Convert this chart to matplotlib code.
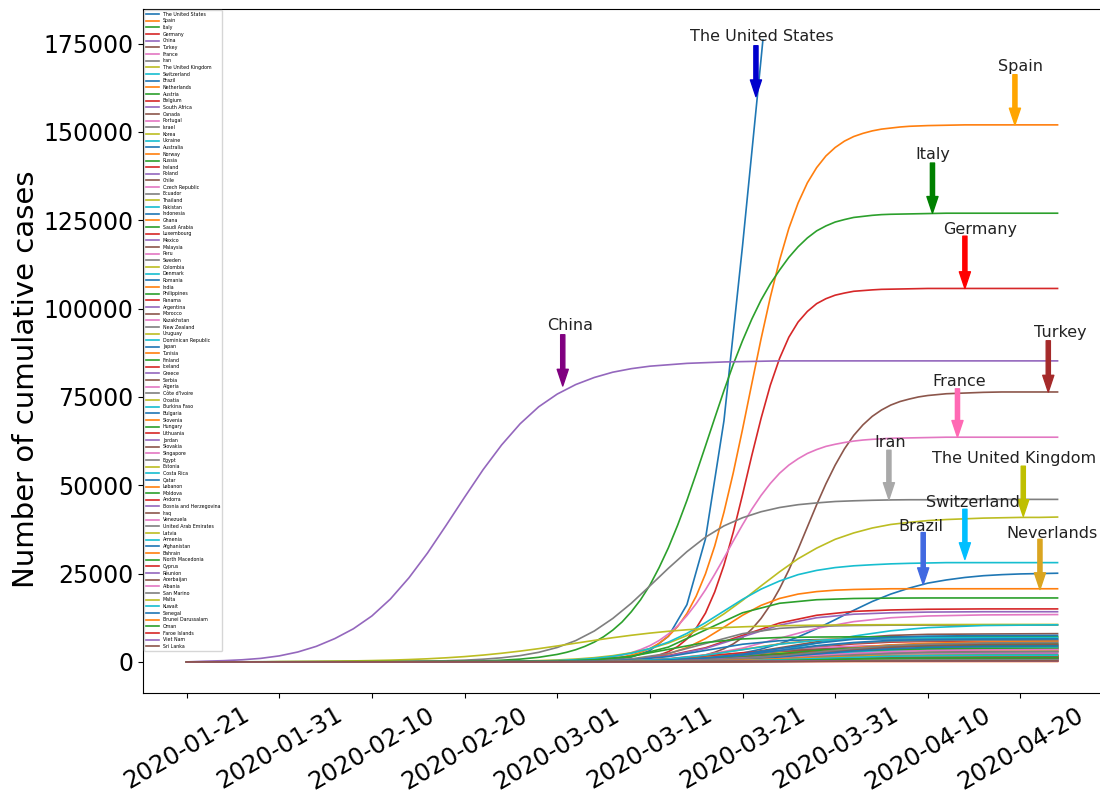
import numpy as np
import matplotlib
matplotlib.use('Agg')
import matplotlib.pyplot as plt
import matplotlib.dates as mdates

# dates are counted in days from 2020-01-21
start_date = '2020-01-21'
tick_labels = ['2020-01-21', '2020-01-31', '2020-02-10', '2020-02-20', '2020-03-01',
               '2020-03-11', '2020-03-21', '2020-03-31', '2020-04-10', '2020-04-20']

big_days = list(range(0, 96, 2))
fine_days = list(range(0, 40, 2)) + list(range(40, 85)) + list(range(86, 96, 2))
small_days = [0, 40, 44, 48, 52, 56, 60, 64, 68, 72, 76, 80, 86, 94]
us_days = list(range(0, 64, 2)) + [62.2]

# cumulative cases (thousands)
us = [0, 0, 0, 0, 0, 0, 0, 0,
      0, 0, 0, 0, 0, 0, 0, 0,
      0, 0, 0, 0, 0.05, 0.11, 0.26, 0.6,
      1.38, 3.2, 7.25, 16.2, 34.8, 68.3, 117.7, 170.6,
      176]

# on fine_days
spain = [0, 0, 0, 0, 0, 0, 0, 0, 0, 0, 0, 0, 0, 0, 0, 0, 0, 0, 0, 0.07,
         0.13, 0.18, 0.26, 0.36, 0.5, 0.7, 0.99, 1.38, 1.94, 2.7,
         3.78, 5.26, 7.27, 10.0, 13.7, 18.6, 24.9, 32.8, 42.4, 53.5,
         65.8, 78.7, 91.4, 103.2, 113.7, 122.7, 129.9, 135.6, 139.9, 143.2,
         145.6, 147.4, 148.7, 149.6, 150.3, 150.8, 151.1, 151.4, 151.6, 151.7,
         151.8, 151.85, 151.9, 151.95, 152,
         152, 152, 152, 152, 152]
italy = [0, 0, 0, 0, 0, 0, 0, 0, 0, 0, 0, 0, 0, 0.07, 0.11, 0.18, 0.29, 0.48, 0.79, 1.3,
         2.12, 2.71, 3.45, 4.41, 5.6, 7.11, 9.0, 11.3, 14.2, 17.6,
         21.7, 26.7, 32.3, 38.7, 45.7, 53.3, 61.1, 69.0, 76.8, 84.2,
         90.9, 97.0, 102.4, 107.0, 110.9, 114.5, 117.5, 120.0, 122.0, 123.4,
         124.5, 125.2, 125.8, 126.1, 126.4, 126.6, 126.7, 126.75, 126.8, 126.85,
         126.9, 126.95, 127, 127, 127,
         127, 127, 127, 127, 127]
germany = [0, 0, 0, 0, 0, 0, 0, 0, 0, 0, 0, 0, 0, 0, 0, 0, 0, 0, 0, 0,
           0.02, 0.03, 0.04, 0.07, 0.1, 0.16, 0.24, 0.36, 0.55, 0.84,
           1.27, 1.92, 2.89, 4.35, 6.47, 9.55, 13.8, 19.8, 27.4, 36.7,
           47.3, 58.4, 68.9, 78.3, 85.9, 91.9, 96.2, 99.2, 101.4, 102.8,
           103.8, 104.4, 104.9, 105.1, 105.3, 105.45, 105.5, 105.55, 105.6, 105.65,
           105.7, 105.7, 105.7, 105.7, 105.7,
           105.7, 105.7, 105.7, 105.7, 105.7]
turkey = [0, 0, 0, 0, 0, 0, 0, 0, 0, 0, 0, 0, 0, 0, 0, 0, 0, 0, 0, 0,
          0.01, 0.01, 0.02, 0.03, 0.04, 0.05, 0.07, 0.1, 0.14, 0.2,
          0.28, 0.39, 0.54, 0.75, 1.03, 1.43, 1.97, 2.72, 3.73, 5.09,
          6.9, 9.27, 12.3, 16.1, 20.7, 26.0, 31.9, 38.2, 44.5, 50.4,
          55.7, 60.3, 64.1, 67.1, 69.5, 71.3, 72.7, 73.7, 74.4, 75.0,
          75.4, 75.65, 75.9, 76.0, 76.1,
          76.3, 76.4, 76.4, 76.4, 76.4]
france = [0, 0, 0, 0, 0, 0, 0, 0, 0, 0, 0, 0, 0, 0, 0, 0, 0, 0, 0.08, 0.14,
          0.25, 0.33, 0.45, 0.6, 0.81, 1.09, 1.46, 1.96, 2.61, 3.48,
          4.6, 6.06, 7.9, 10.2, 13.1, 16.5, 20.4, 24.8, 29.4, 34.2,
          38.8, 43.2, 47.1, 50.5, 53.4, 55.7, 57.5, 59.0, 60.1, 61.0,
          61.6, 62.1, 62.5, 62.8, 63.0, 63.15, 63.3, 63.35, 63.4, 63.45,
          63.5, 63.55, 63.6, 63.6, 63.6,
          63.6, 63.6, 63.6, 63.6, 63.6]

# on big_days
china = [0, 0.2, 0.35, 0.6, 1.0, 1.7, 2.8, 4.4,
         6.6, 9.37, 13.0, 17.8, 23.8, 30.8, 38.6, 46.6,
         54.4, 61.4, 67.4, 72.2, 75.8, 78.5, 80.5, 82.0,
         83.0, 83.7, 84.1, 84.5, 84.7, 84.9, 85.0, 85.1,
         85.2, 85.2, 85.2, 85.2, 85.2, 85.2, 85.2, 85.2,
         85.2, 85.2, 85.2, 85.2, 85.2, 85.2, 85.2, 85.2]
iran = [0, 0, 0, 0, 0, 0, 0, 0,
        0, 0, 0.05, 0.09, 0.13, 0.21, 0.32, 0.49,
        0.76, 1.16, 1.78, 2.71, 4.08, 6.03, 8.74, 12.3,
        16.6, 21.5, 26.5, 31.2, 35.3, 38.5, 40.8, 42.5,
        43.7, 44.5, 45.0, 45.4, 45.6, 45.75, 45.85, 45.9,
        45.9, 46, 46, 46, 46, 46, 46, 46]
uk = [0, 0, 0, 0, 0, 0, 0, 0,
      0, 0, 0, 0, 0, 0, 0, 0.08,
      0.11, 0.17, 0.25, 0.37, 0.55, 0.81, 1.2, 1.77,
      2.58, 3.73, 5.33, 7.46, 10.25, 13.6, 17.4, 21.5,
      25.5, 29.2, 32.2, 34.7, 36.5, 37.9, 38.9, 39.5,
      40.0, 40.3, 40.5, 40.7, 40.8, 40.9, 40.9, 41.0]
switzerland = [0, 0, 0, 0, 0, 0, 0, 0,
               0, 0, 0, 0, 0, 0, 0, 0,
               0, 0.1, 0.15, 0.25, 0.39, 0.62, 0.99, 1.57,
               2.45, 3.77, 5.6, 8.07, 11.1, 14.4, 17.7, 20.6,
               22.9, 24.7, 25.9, 26.7, 27.2, 27.5, 27.75, 27.9,
               28.0, 28.1, 28.1, 28.1, 28.1, 28.1, 28.1, 28.1]
brazil = [0, 0, 0, 0, 0, 0, 0, 0,
          0, 0, 0, 0, 0, 0, 0, 0,
          0, 0, 0, 0, 0, 0, 0.09, 0.14,
          0.22, 0.34, 0.51, 0.76, 1.14, 1.7, 2.5, 3.62,
          5.13, 7.06, 9.37, 11.95, 14.6, 17.1, 19.2, 20.9,
          22.3, 23.2, 23.9, 24.4, 24.7, 24.9, 25.0, 25.1]
netherlands = [0, 0, 0, 0, 0, 0, 0, 0,
               0, 0, 0, 0, 0, 0, 0, 0,
               0, 0, 0, 0, 0, 0.09, 0.18, 0.35,
               0.67, 1.26, 2.3, 4.03, 6.6, 9.83, 13.2, 16.0,
               17.96, 19.2, 19.9, 20.3, 20.5, 20.6, 20.7, 20.7,
               20.7, 20.7, 20.7, 20.7, 20.7, 20.7, 20.7, 20.7]
korea = [0, 0, 0, 0, 0, 0.09, 0.12, 0.16,
         0.22, 0.28, 0.38, 0.5, 0.67, 0.88, 1.16, 1.5,
         1.93, 2.45, 3.06, 3.75, 4.51, 5.3, 6.09, 6.85,
         7.54, 8.15, 8.67, 9.1, 9.44, 9.72, 9.93, 10.1,
         10.22, 10.32, 10.39, 10.44, 10.48, 10.51, 10.53, 10.55,
         10.56, 10.57, 10.58, 10.59, 10.6, 10.6, 10.6, 10.6]

# smaller countries on the coarse day grid (thousands)
minor = {
    'Austria': [0, .14, .49, 1.5, 4.2, 9.05, 13.9, 16.6, 17.6, 17.95, 18.06, 18.1, 18.1, 18.1],
    'Belgium': [0, .1, .27, .7, 1.8, 4.0, 7.5, 11.0, 13.2, 14.3, 14.7, 14.9, 15.0, 15.0],
    'South Africa': [0, .1, .26, .67, 1.7, 3.8, 7.1, 10.4, 12.5, 13.5, 13.9, 14.1, 14.2, 14.2],
    'Canada': [0, .04, .1, .23, .54, 1.2, 2.3, 4.0, 5.7, 6.8, 7.5, 7.8, 7.9, 8.0],
    'Portugal': [0, .07, .16, .39, .9, 2.0, 3.9, 6.7, 9.5, 11.4, 12.5, 13.0, 13.3, 13.4],
    'Israel': [0, .08, .28, .86, 2.4, 5.2, 8.0, 9.5, 10.1, 10.3, 10.4, 10.4, 10.4, 10.4],
    'Ukraine': [0, .04, .08, .19, .41, .88, 1.8, 3.3, 5.3, 7.3, 8.8, 9.7, 10.3, 10.5],
    'Australia': [0, .05, .18, .54, 1.5, 3.25, 5.0, 6.0, 6.3, 6.45, 6.5, 6.5, 6.5, 6.5],
    'Norway': [0, .05, .13, .33, .83, 1.9, 3.5, 5.1, 6.2, 6.7, 6.9, 6.95, 7.0, 7.0],
    'Russia': [0, .19, .59, 1.6, 3.55, 5.5, 6.5, 6.9, 7.04, 7.09, 7.1, 7.1, 7.1, 7.1],
    'Ireland': [0, .03, .07, .17, .4, .88, 1.8, 3.0, 4.2, 5.1, 5.6, 5.8, 5.95, 6.0],
    'Poland': [0, .02, .04, .1, .22, .46, .94, 1.7, 2.8, 3.9, 4.7, 5.1, 5.4, 5.6],
    'Chile': [0, .03, .06, .15, .34, .74, 1.5, 2.5, 3.5, 4.3, 4.7, 4.9, 5.0, 5.0],
    'Czech Republic': [0, .03, .08, .22, .55, 1.2, 2.3, 3.4, 4.05, 4.4, 4.5, 4.6, 4.6, 4.6],
    'Ecuador': [0, .02, .05, .12, .28, .62, 1.2, 2.1, 3.0, 3.6, 3.9, 4.1, 4.2, 4.2],
    'Thailand': [0, .02, .08, .25, .7, 1.5, 2.3, 2.75, 2.9, 3.0, 3.0, 3.0, 3.0, 3.0],
    'Pakistan': [0, .02, .04, .09, .19, .4, .81, 1.5, 2.4, 3.3, 4.0, 4.4, 4.7, 4.8],
    'Indonesia': [0, .02, .04, .08, .17, .37, .74, 1.4, 2.2, 3.0, 3.7, 4.0, 4.3, 4.4],
    'Ghana': [0, .01, .01, .03, .06, .12, .25, .47, .75, 1.0, 1.25, 1.4, 1.46, 1.5],
    'Saudi Arabia': [0, .02, .04, .09, .2, .43, .87, 1.6, 2.6, 3.6, 4.3, 4.8, 5.1, 5.2],
    'Luxembourg': [0, .03, .09, .28, .79, 1.7, 2.6, 3.1, 3.3, 3.37, 3.4, 3.4, 3.4, 3.4],
    'Mexico': [0, .02, .03, .07, .15, .32, .64, 1.2, 1.9, 2.6, 3.2, 3.5, 3.7, 3.8],
    'Malaysia': [0, .03, .07, .19, .49, 1.1, 2.05, 3.0, 3.6, 3.9, 4.0, 4.1, 4.1, 4.1],
    'Peru': [0, .02, .04, .08, .18, .37, .76, 1.4, 2.25, 3.1, 3.7, 4.1, 4.4, 4.5],
    'Sweden': [0, .03, .07, .18, .42, .91, 1.8, 3.1, 4.4, 5.3, 5.8, 6.0, 6.15, 6.2],
    'Colombia': [0, .02, .04, .09, .21, .47, .94, 1.6, 2.3, 2.7, 3.0, 3.1, 3.2, 3.2],
    'Denmark': [0, .05, .12, .32, .82, 1.9, 3.45, 5.0, 6.1, 6.6, 6.8, 6.85, 6.9, 6.9],
    'Romania': [0, .03, .08, .19, .44, .96, 1.9, 3.25, 4.6, 5.5, 6.1, 6.3, 6.45, 6.5],
    'India': [0, .02, .05, .1, .23, .48, .97, 1.8, 2.9, 4.0, 4.8, 5.3, 5.6, 5.8],
    'Philippines': [0, .02, .06, .13, .31, .68, 1.35, 2.3, 3.25, 3.9, 4.3, 4.5, 4.6, 4.6],
    'Panama': [0, .02, .05, .11, .26, .57, 1.1, 1.95, 2.8, 3.3, 3.6, 3.8, 3.9, 3.9],
    'Argentina': [0, .01, .03, .08, .19, .41, .82, 1.4, 2.0, 2.4, 2.6, 2.7, 2.8, 2.8],
    'Morocco': [0, .01, .02, .05, .11, .24, .49, .9, 1.45, 2.0, 2.4, 2.65, 2.8, 2.9],
    'Kazakhstan': [0, .01, .01, .03, .06, .13, .27, .5, .8, 1.1, 1.3, 1.5, 1.55, 1.6],
    'New Zealand': [0, .01, .03, .07, .17, .38, .7, 1.0, 1.2, 1.33, 1.37, 1.39, 1.4, 1.4],
    'Uruguay': [0, 0, .01, .02, .06, .13, .25, .37, .44, .48, .49, .5, .5, .5],
    'Dominican Republic': [0, .02, .03, .07, .16, .33, .67, 1.2, 2.0, 2.8, 3.3, 3.7, 3.9, 4.0],
    'Japan': [0, .04, .09, .22, .5, 1.1, 2.2, 3.75, 5.3, 6.4, 7.0, 7.3, 7.45, 7.5],
    'Tunisia': [0, 0, .01, .03, .06, .13, .26, .45, .64, .77, .84, .87, .89, .9],
    'Finland': [0, .02, .05, .11, .25, .56, 1.1, 1.9, 2.7, 3.2, 3.5, 3.7, 3.8, 3.8],
    'Iceland': [0, .01, .03, .08, .21, .48, .9, 1.3, 1.6, 1.7, 1.77, 1.79, 1.8, 1.8],
    'Greece': [0, .02, .04, .11, .27, .62, 1.15, 1.7, 2.0, 2.2, 2.26, 2.28, 2.3, 2.3],
    'Serbia': [0, .02, .04, .09, .2, .42, .84, 1.55, 2.5, 3.45, 4.2, 4.6, 4.9, 5.0],
    'Algeria': [0, .01, .03, .08, .17, .38, .76, 1.3, 1.8, 2.2, 2.4, 2.5, 2.6, 2.6],
    "Côte d'Ivoire": [0, 0, .01, .01, .03, .07, .13, .25, .4, .55, .67, .73, .78, .8],
    'Croatia': [0, .01, .02, .06, .13, .28, .56, .95, 1.3, 1.6, 1.8, 1.85, 1.9, 1.9],
    'Burkina Faso': [0, 0, .01, .02, .04, .09, .18, .3, .42, .51, .56, .58, .6, .6],
    'Bulgaria': [0, 0, .01, .03, .06, .13, .26, .45, .64, .77, .84, .87, .89, .9],
    'Slovenia': [0, .01, .02, .06, .15, .35, .65, .95, 1.15, 1.24, 1.28, 1.29, 1.3, 1.3],
    'Hungary': [0, .01, .01, .03, .07, .14, .29, .53, .85, 1.2, 1.4, 1.56, 1.65, 1.7],
    'Lithuania': [0, .01, .01, .03, .08, .18, .35, .6, .85, 1.0, 1.1, 1.17, 1.19, 1.2],
    'Jordan': [0, 0, .01, .02, .05, .11, .2, .29, .35, .38, .39, .4, .4, .4],
    'Slovakia': [0, 0, .01, .02, .04, .08, .17, .31, .5, .69, .83, .92, .97, 1.0],
    'Singapore': [0, .01, .03, .06, .14, .29, .59, 1.1, 1.75, 2.4, 2.9, 3.2, 3.4, 3.5],
    'Egypt': [0, .01, .02, .05, .11, .24, .49, .9, 1.45, 2.0, 2.4, 2.65, 2.8, 2.9],
    'Estonia': [0, .01, .02, .04, .1, .22, .44, .75, 1.06, 1.28, 1.4, 1.46, 1.49, 1.5],
    'Costa Rica': [0, 0, .01, .02, .05, .1, .21, .35, .5, .6, .65, .68, .69, .7],
    'Qatar': [0, .02, .04, .08, .18, .37, .76, 1.4, 2.25, 3.1, 3.7, 4.1, 4.4, 4.5],
    'Lebanon': [0, 0, .01, .02, .05, .1, .21, .35, .5, .6, .65, .68, .69, .7],
    'Moldova': [0, .01, .02, .03, .07, .16, .32, .59, .95, 1.3, 1.6, 1.75, 1.85, 1.9],
    'Andorra': [0, 0, .01, .02, .05, .1, .21, .35, .5, .6, .65, .68, .69, .7],
    'Bosnia and Herzegovina': [0, 0, .01, .02, .05, .1, .2, .37, .6, .83, 1.0, 1.1, 1.17, 1.2],
    'Iraq': [0, .01, .02, .04, .09, .21, .41, .7, .99, 1.2, 1.3, 1.36, 1.39, 1.4],
    'Venezuela': [0, 0, 0, .01, .01, .03, .06, .1, .14, .17, .19, .19, .2, .2],
    'United Arab Emirates': [0, .02, .04, .1, .21, .46, .92, 1.7, 2.75, 3.8, 4.6, 5.0, 5.35, 5.5],
    'Latvia': [0, 0, .01, .02, .05, .1, .21, .35, .5, .6, .65, .68, .69, .7],
    'Armenia': [0, 0, .01, .02, .05, .1, .2, .37, .6, .83, 1.0, 1.1, 1.17, 1.2],
    'Afghanistan': [0, 0, .01, .02, .04, .08, .17, .31, .5, .69, .83, .92, .97, 1.0],
    'Bahrain': [0, .01, .02, .05, .11, .25, .5, .85, 1.2, 1.45, 1.6, 1.65, 1.69, 1.7],
    'North Macedonia': [0, 0, .01, .02, .04, .09, .18, .34, .55, .76, .92, 1.0, 1.07, 1.1],
    'Cyprus': [0, 0, .01, .02, .05, .1, .21, .35, .5, .6, .65, .68, .69, .7],
    'Réunion': [0, 0, .01, .02, .05, .11, .2, .29, .35, .38, .39, .4, .4, .4],
    'Azerbaijan': [0, .01, .01, .03, .05, .12, .24, .43, .7, .97, 1.16, 1.28, 1.36, 1.4],
    'Albania': [0, 0, .01, .02, .04, .09, .18, .3, .42, .51, .56, .58, .6, .6],
    'San Marino': [0, 0, .01, .02, .06, .13, .25, .37, .44, .48, .49, .5, .5, .5],
    'Malta': [0, 0, 0, .01, .03, .06, .12, .2, .28, .34, .37, .39, .4, .4],
    'Kuwait': [0, .01, .02, .03, .07, .16, .32, .59, .95, 1.3, 1.6, 1.75, 1.85, 1.9],
    'Senegal': [0, 0, 0, .01, .02, .03, .07, .12, .2, .28, .33, .37, .39, .4],
    'Brunei Darussalam': [0, 0, 0, .01, .03, .07, .11, .13, .14, .14, .14, .14, .14, .14],
    'Oman': [0, 0, .01, .02, .05, .1, .2, .37, .6, .83, 1.0, 1.1, 1.17, 1.2],
    'Faroe Islands': [0, 0, .01, .02, .04, .1, .15, .17, .18, .19, .19, .19, .19, .19],
    'Viet Nam': [0, 0, 0, .01, .03, .07, .14, .2, .24, .26, .27, .27, .27, .27],
    'Sri Lanka': [0, 0, 0, .01, .01, .02, .05, .09, .15, .21, .25, .28, .29, .3],
}

countries = ['The United States', 'Spain', 'Italy', 'Germany', 'China', 'Turkey', 'France',
             'Iran', 'The United Kingdom', 'Switzerland', 'Brazil', 'Netherlands', 'Austria',
             'Belgium', 'South Africa', 'Canada', 'Portugal', 'Israel', 'Korea', 'Ukraine',
             'Australia', 'Norway', 'Russia', 'Ireland', 'Poland', 'Chile', 'Czech Republic',
             'Ecuador', 'Thailand', 'Pakistan', 'Indonesia', 'Ghana', 'Saudi Arabia',
             'Luxembourg', 'Mexico', 'Malaysia', 'Peru', 'Sweden', 'Colombia', 'Denmark',
             'Romania', 'India', 'Philippines', 'Panama', 'Argentina', 'Morocco', 'Kazakhstan',
             'New Zealand', 'Uruguay', 'Dominican Republic', 'Japan', 'Tunisia', 'Finland',
             'Iceland', 'Greece', 'Serbia', 'Algeria', "Côte d'Ivoire", 'Croatia',
             'Burkina Faso', 'Bulgaria', 'Slovenia', 'Hungary', 'Lithuania', 'Jordan',
             'Slovakia', 'Singapore', 'Egypt', 'Estonia', 'Costa Rica', 'Qatar', 'Lebanon',
             'Moldova', 'Andorra', 'Bosnia and Herzegovina', 'Iraq', 'Venezuela',
             'United Arab Emirates', 'Latvia', 'Armenia', 'Afghanistan', 'Bahrain',
             'North Macedonia', 'Cyprus', 'Réunion', 'Azerbaijan', 'Albania', 'San Marino',
             'Malta', 'Kuwait', 'Senegal', 'Brunei Darussalam', 'Oman', 'Faroe Islands',
             'Viet Nam', 'Sri Lanka']

big = {'The United States': (us_days, us), 'Spain': (fine_days, spain),
       'Italy': (fine_days, italy), 'Germany': (fine_days, germany),
       'China': (big_days, china), 'Turkey': (fine_days, turkey),
       'France': (fine_days, france), 'Iran': (big_days, iran),
       'The United Kingdom': (big_days, uk), 'Switzerland': (big_days, switzerland),
       'Brazil': (big_days, brazil), 'Netherlands': (big_days, netherlands),
       'Korea': (big_days, korea)}

# label, text (day, cases), arrow day, arrow tail, arrow tip, colour
notes = [('The United States', 62.1, 177000, 61.45, 174400, 160000, 'mediumblue'),
         ('Spain', 90.0, 168500, 89.4, 166200, 152000, 'orange'),
         ('Italy', 80.5, 143500, 80.5, 141200, 127000, 'green'),
         ('Germany', 85.6, 122400, 84.0, 120500, 105700, 'red'),
         ('China', 41.4, 95200, 40.6, 92600, 78100, 'purple'),
         ('Turkey', 94.3, 93200, 93.0, 90900, 76400, 'brown'),
         ('France', 83.4, 79500, 83.2, 77300, 63600, 'hotpink'),
         ('Iran', 75.9, 62200, 75.8, 59900, 46000, 'darkgray'),
         ('The United Kingdom', 89.3, 57700, 90.3, 55400, 41200, 'y'),
         ('Switzerland', 84.9, 45200, 84.0, 43200, 29000, 'deepskyblue'),
         ('Brazil', 79.3, 38400, 79.5, 36600, 21900, 'royalblue'),
         ('Neverlands', 93.4, 36400, 92.1, 34700, 20500, 'goldenrod')]

base = mdates.datestr2num(start_date)

fig = plt.figure(figsize=(11, 7.96), dpi=100)
ax = fig.add_axes([0.13, 0.1294, 0.871, 0.8593])

for name in countries:
    if name in big:
        days, vals = big[name]
    else:
        days, vals = small_days, minor[name]
    ax.plot(base + np.array(days), np.array(vals) * 1000, lw=1.2, label=name)

for label, tx, ty, ax_day, tail, tip, c in notes:
    ax.annotate('', xy=(base + ax_day, tip), xytext=(base + ax_day, tail),
                arrowprops=dict(facecolor=c, edgecolor=c, width=3, headwidth=8,
                                headlength=12, shrink=0))
    ax.text(base + tx, ty, label, ha='center', va='center', fontsize=11.5, color='#222222')

ax.set_xlim(base - 4.7, base + 98.7)
ax.set_ylim(-8800, 184800)
ax.set_xticks([mdates.datestr2num(t) for t in tick_labels])
ax.set_xticklabels(tick_labels, rotation=30, fontsize=17.5)
ax.set_yticks(np.arange(0, 175001, 25000))
ax.set_yticklabels([str(v) for v in range(0, 175001, 25000)], fontsize=17)
ax.set_ylabel('Number of cumulative cases', fontsize=21)
ax.yaxis.set_label_coords(-0.108, 0.458)

ax.legend(loc='upper left', fontsize=3.4, handlelength=2.8, labelspacing=0.35,
          borderaxespad=0.2, borderpad=0.4)

fig.savefig('out.png', dpi=100)
